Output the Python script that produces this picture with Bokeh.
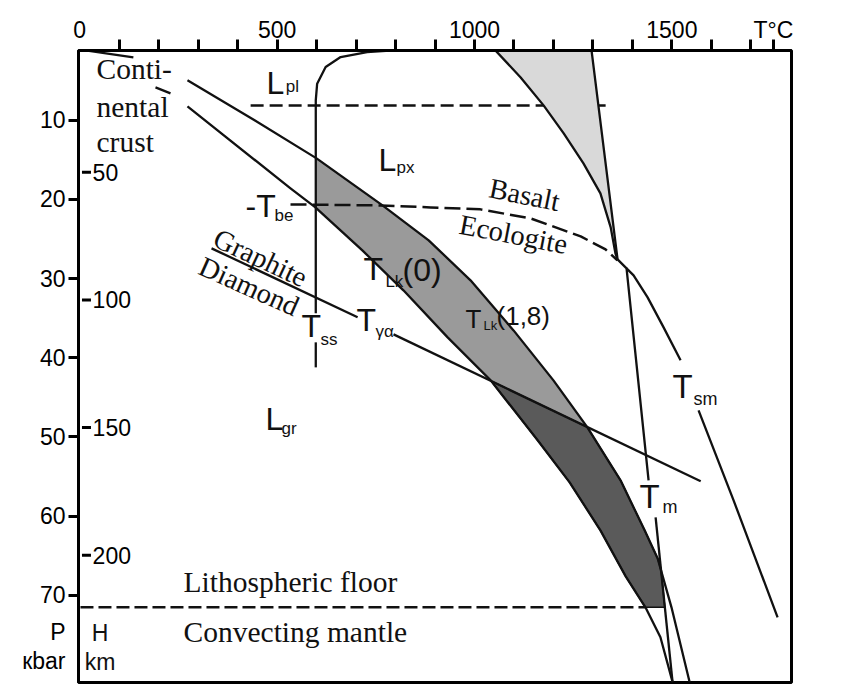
import numpy as np
from bokeh.plotting import figure
from bokeh.models import Range1d, FixedTicker, Label, ColumnDataSource, LinearAxis
from bokeh.core.properties import value
from bokeh.embed import file_html
from bokeh.resources import INLINE

# ---------------- axes ----------------
T_labels = [0, 500, 1000, 1500]
T_unit_pos = 1757
T_small = [100 * i for i in range(1, 18)] + [T_unit_pos]
P_ticks = [10, 20, 30, 40, 50, 60, 70]
P_title_pos = [74.66, 78.3]
P_title_txt = ["P", "кbar"]
H_ticks = [50, 100, 150, 200]

# ---------------- curves (T in degC, P in kbar) ----------------
hot_T = [273, 443, 600, 767, 884, 990, 1099, 1200, 1286, 1370, 1431, 1464, 1499, 1545]
hot_P = [4.97, 10.02, 14.82, 20.76, 25.17, 30.22, 36.54, 42.85, 48.78, 55.47, 61.79, 65.33, 71.51, 80.98]
cold_T = [273, 534, 597, 716, 820, 932, 1041, 1160, 1241, 1319, 1383, 1433, 1471, 1502]
cold_P = [8.26, 18.61, 21.01, 26.44, 31.48, 37.42, 42.85, 50.42, 55.73, 61.79, 67.60, 71.51, 75.29, 80.98]
crust_hot_T = [15, 136]
crust_hot_P = [1.19, 2.07]
crust_cold_T = [192, 230]
crust_cold_P = [5.86, 6.62]

solidus_T = [795, 728, 661, 623, 601.5, 598, 598]
solidus_P = [1.19, 1.40, 2.03, 3.29, 5.39, 7.50, 34.39]
solidus_low_T = [598, 598]
solidus_low_P = [38.05, 41.21]

plpx_T = [433, 1345]
plpx_P = [8.13, 8.13]
be_T = [534, 762, 889, 1015, 1142, 1269, 1332, 1362]
be_P = [20.63, 20.76, 21.01, 21.26, 22.40, 24.67, 26.31, 27.70]

wedge_T = [1053, 1117, 1175, 1226, 1276, 1319, 1345, 1357, 1362]
wedge_P = [1.19, 4.60, 8.13, 11.67, 15.45, 19.24, 23.53, 26.82, 27.57]
tm_up_T = [1296.5, 1362.4, 1385.2, 1441]
tm_up_P = [1.19, 27.57, 28.71, 55.47]
tm_lo_T = [1458.8, 1501.8]
tm_lo_P = [60.15, 80.98]
tsm_up_T = [1385.2, 1403, 1438.5, 1479, 1522]
tsm_up_P = [28.71, 29.59, 32.37, 36.16, 40.32]
tsm_lo_T = [1567.6, 1656.3, 1767.8]
tsm_lo_P = [46.64, 58.0, 72.77]

gd_T = [334, 704]
gd_P = [26.18, 34.89]
tga_T = [795, 1573]
tga_P = [37.04, 55.60]

litho_T = [2, 1433]
litho_P = [71.51, 71.51]

# ---------------- figure ----------------
FRAME_H = 632
P_LO, P_HI = 1.2, 81.0
PX_PER_KBAR = FRAME_H / (P_HI - P_LO)

p = figure(frame_width=713, frame_height=FRAME_H,
           x_range=Range1d(-3, 1803), y_range=Range1d(P_HI, P_LO),
           x_axis_location="above", y_axis_location="left",
           toolbar_location=None, output_backend="svg",
           min_border_left=78, min_border_right=60, min_border_top=50, min_border_bottom=8)
p.extra_y_ranges = {"H": Range1d(249.9, 2.3)}
p.xgrid.visible = False
p.ygrid.visible = False
p.outline_line_color = "black"
p.outline_line_width = 3
p.outline_line_alpha = 1.0
p.background_fill_color = "white"
p.border_fill_color = "white"

xa = p.xaxis[0]
xa.ticker = FixedTicker(ticks=T_labels + [T_unit_pos], minor_ticks=T_small)
xa.major_label_overrides = {T_unit_pos: "T°C"}
xa.major_tick_out = 0
xa.major_tick_in = 0
xa.minor_tick_out = 11
xa.minor_tick_in = 0
xa.minor_tick_line_width = 3
xa.minor_tick_line_color = "black"
xa.axis_line_width = 3
xa.axis_line_color = "black"
xa.major_label_standoff = -3
xa.major_label_text_font = "Liberation Sans"
xa.major_label_text_font_size = "23px"
xa.major_label_text_color = "black"

# inner left axis: tick marks only
ya = p.yaxis[0]
ya.ticker = FixedTicker(ticks=P_ticks)
ya.major_tick_out = 10
ya.major_tick_in = 0
ya.major_tick_line_width = 3
ya.major_tick_line_color = "black"
ya.minor_tick_line_color = None
ya.axis_line_width = 3
ya.axis_line_color = "black"
ya.major_label_standoff = 0
ya.major_label_text_font_size = "0px"
ya.major_label_text_alpha = 0

# outer left axis: the labels, plus the P / кbar title
ya2 = LinearAxis(ticker=FixedTicker(ticks=P_ticks + P_title_pos))
ya2.major_label_overrides = {P_title_pos[0]: P_title_txt[0], P_title_pos[1]: P_title_txt[1]}
ya2.major_tick_out = 0
ya2.major_tick_in = 0
ya2.major_tick_line_color = None
ya2.minor_tick_line_color = None
ya2.axis_line_color = None
ya2.major_label_standoff = 3
ya2.major_label_text_font = "Liberation Sans"
ya2.major_label_text_font_size = "23px"
ya2.major_label_text_color = "black"
p.add_layout(ya2, "left")

# ---------------- fills ----------------
Pg = np.linspace(1.2, litho_P[0], 2000)
Tu = np.interp(Pg, hot_P, hot_T, left=-1e9)
Tl = np.interp(Pg, cold_P, cold_T, left=1e9)
Tm = np.interp(Pg, tm_up_P + tm_lo_P, tm_up_T + tm_lo_T)
Tg = np.interp(Pg, gd_P + tga_P, gd_T + tga_T, left=-1e9)
Tss = solidus_T[-1]

left_med = np.maximum(np.maximum(np.where(Tl > 1e8, -1e9, Tl), Tss), Tg)
right_med = np.minimum(Tu, Tm)
m1 = left_med < right_med
med_x = np.concatenate([left_med[m1], right_med[m1][::-1]])
med_y = np.concatenate([Pg[m1], Pg[m1][::-1]])

left_dk = Tl
right_dk = np.minimum(np.minimum(Tu, Tm), Tg)
m2 = left_dk < right_dk
dk_x = np.concatenate([left_dk[m2], right_dk[m2][::-1]])
dk_y = np.concatenate([Pg[m2], Pg[m2][::-1]])

LW = 2.3
INK = "#111111"

# dashed Lpl/Lpx boundary (below the wedge)
p.line(plpx_T, plpx_P, line_color=INK, line_width=2.5, line_dash="13 6")

p.patch(med_x, med_y, fill_color="#9a9a9a", line_color=None)
p.patch(dk_x, dk_y, fill_color="#5a5a5a", line_color=INK, line_width=1.5)
p.patch(wedge_T + tm_up_T[:2][::-1], wedge_P + tm_up_P[:2][::-1],
        fill_color="#d9d9d9", line_color=None)

# dashed lines
p.line(be_T, be_P, line_color=INK, line_width=2.5, line_dash="16 6")
p.line(litho_T, litho_P, line_color=INK, line_width=2.5, line_dash="13 5")

# solid curves
for xs, ys in [(hot_T, hot_P), (cold_T, cold_P), (crust_hot_T, crust_hot_P),
               (crust_cold_T, crust_cold_P), (solidus_T, solidus_P),
               (solidus_low_T, solidus_low_P), (wedge_T, wedge_P),
               (tm_up_T, tm_up_P), (tm_lo_T, tm_lo_P), (tsm_up_T, tsm_up_P),
               (tsm_lo_T, tsm_lo_P), (gd_T, gd_P), (tga_T, tga_P)]:
    p.line(xs, ys, line_color=INK, line_width=LW, line_join="round")

# H (km) scale inside the frame
p.scatter([17.2] * len(H_ticks), H_ticks, marker="dash", size=9, line_width=3,
          line_color="black", y_range_name="H")
p.text([32.7] * len(H_ticks), H_ticks, text=[str(h) for h in H_ticks], y_range_name="H",
       text_font=value("Liberation Sans"), text_font_size=value("23px"),
       text_align="left", text_baseline="middle", text_color="black")


def add_text(d, font, size, align="left"):
    """Labels given by their baseline; drawn with a 'middle' anchor."""
    d = dict(d)
    if "angle" not in d:
        shift = 0.34 * size / PX_PER_KBAR
        d["y"] = [y - shift for y in d["y"]]
    src = ColumnDataSource(d)
    kw = dict(x="x", y="y", text="text", source=src, text_font=value(font),
              text_font_size=value(f"{size}px"), text_align=align, text_baseline="middle",
              text_color=INK)
    if "angle" in d:
        kw["angle"] = "angle"
    p.text(**kw)


add_text(dict(text=["Conti-", "nental", "crust", "Lithospheric floor", "Convecting mantle"],
              x=[42.6, 42.6, 42.6, 263, 263], y=[4.85, 9.65, 14.06, 69.62, 75.93]),
         "Liberation Serif", 29.5)
add_text(dict(text=["Basalt", "Ecologite", "Graphite", "Diamond"],
              x=[1126.7, 1098.8, 458, 428.9], y=[19.43, 24.42, 27.38, 30.98],
              angle=[-0.2, -0.19, -0.44, -0.42]),
         "Liberation Serif", 28.5, align="center")
add_text(dict(text=["L", "L", "L", "-T", "T", "T", "T", "(0)"],
              x=[473.2, 756.8, 470.7, 420, 561.8, 701.2, 718.9, 817.6],
              y=[6.62, 16.34, 49.16, 22.27, 37.42, 36.54, 30.22, 30.35]),
         "Liberation Sans", 32)
add_text(dict(text=["T", "T"], x=[1501.6, 1417.9], y=[44.99, 58.88]),
         "Liberation Sans", 33)
add_text(dict(text=["pl", "px", "gr", "be", "ss", "γα", "Lk"],
              x=[522, 802.5, 511.2, 493.4, 610, 749.1, 774.4],
              y=[6.49, 16.72, 49.67, 22.78, 38.43, 37.42, 31.11]),
         "Liberation Sans", 17)
add_text(dict(text=["sm", "m"], x=[1554.7, 1476.2], y=[46.0, 59.64]),
         "Liberation Sans", 18)
add_text(dict(text=["T", "(1,8)"], x=[977.2, 1055.8], y=[36.16, 35.9]),
         "Liberation Sans", 26)
add_text(dict(text=["Lk"], x=[1022.8], y=[36.54]), "Liberation Sans", 13)

# H / km title inside the frame
for txt, tx, py in [("H", 51.5, 74.75), ("km", 51.5, 78.35)]:
    p.add_layout(Label(x=tx, y=py, text=txt, text_align="center", text_baseline="middle",
                       text_font="Liberation Sans", text_font_size="23px", text_color=INK))

open("out.html", "w").write(file_html(p, INLINE))
